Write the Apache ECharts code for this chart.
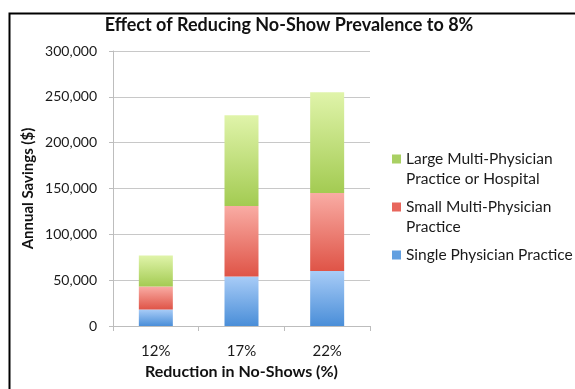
<!DOCTYPE html>
<html>
<head>
<meta charset="utf-8">
<script src="https://cdn.jsdelivr.net/npm/echarts@6/dist/echarts.min.js"></script>
<style>
  html, body { margin: 0; padding: 0; background: #fff; }
  #chart { width: 575px; height: 389px; }
</style>
</head>
<body>
<div id="chart"></div>
<script>
// Annual savings by practice type for each no-show reduction level
const categories = ['12%', '17%', '22%'];
const singlePhysician = [18000, 54000, 60000];
const smallMulti = [25000, 77000, 85000];
const largeMulti = [34000, 99000, 110000];
const yTicks = [0, 50000, 100000, 150000, 200000, 250000, 300000];

const seriesNames = {
  large: 'Large Multi-Physician\nPractice or Hospital',
  small: 'Small Multi-Physician\nPractice',
  single: 'Single Physician Practice'
};

const FONT = 'Lato, "Open Sans", sans-serif';
const LEGEND_TEXT = { fontFamily: FONT, fontSize: 15.5, color: '#1a1a1a', lineHeight: 20 };

// square marker sitting on the first line of a two-line legend entry
const topSquare = 'path://M0,5.5L9,5.5L9,14.5L0,14.5Z M0,0L0.01,0 M0,40L0.01,40';

function grad(top, bottom) {
  return new echarts.graphic.LinearGradient(0, 0, 0, 1, [
    { offset: 0, color: top },
    { offset: 1, color: bottom }
  ]);
}

function legendBlock(name, color, top, icon, h) {
  return {
    orient: 'vertical',
    left: 387,
    top: top,
    itemWidth: 9,
    itemHeight: h,
    icon: icon,
    data: [{ name: name, itemStyle: { color: color, borderWidth: 0 } }],
    textStyle: LEGEND_TEXT
  };
}

const chart = echarts.init(document.getElementById('chart'), null, { renderer: 'canvas' });

chart.setOption({
  animation: false,
  backgroundColor: '#fff',
  title: {
    text: 'Effect of Reducing No-Show Prevalence to 8%',
    left: 284,
    textAlign: 'center',
    top: 11,
    textStyle: { fontFamily: FONT, fontWeight: 'bold', fontSize: 18, color: '#111' }
  },
  legend: [
    legendBlock(seriesNames.large, '#a9d063', 144, topSquare, 40),
    legendBlock(seriesNames.small, '#e8665c', 192, topSquare, 40),
    legendBlock(seriesNames.single, '#629fe0', 240, 'rect', 9)
  ],
  grid: { left: 113, right: 205, top: 51, bottom: 63 },
  xAxis: {
    type: 'category',
    data: categories,
    name: 'Reduction in No-Shows (%)',
    nameLocation: 'middle',
    nameGap: 35,
    nameTextStyle: { fontFamily: FONT, fontWeight: 'bold', fontSize: 16, color: '#111' },
    axisLine: { lineStyle: { color: '#bdbdbd' } },
    axisTick: { show: true, length: 5, lineStyle: { color: '#bdbdbd' } },
    axisLabel: { fontFamily: FONT, fontSize: 15, color: '#1a1a1a', margin: 18 }
  },
  yAxis: {
    type: 'value',
    min: yTicks[0],
    max: yTicks[yTicks.length - 1],
    interval: yTicks[1] - yTicks[0],
    name: 'Annual Savings ($)',
    nameLocation: 'middle',
    nameGap: 77,
    nameRotate: 90,
    nameTextStyle: { fontFamily: FONT, fontWeight: 'bold', fontSize: 15, color: '#111' },
    axisLine: { show: true, lineStyle: { color: '#bdbdbd' } },
    axisTick: { show: true, length: 4, lineStyle: { color: '#bdbdbd' } },
    splitLine: { lineStyle: { color: '#c8c8c8' } },
    axisLabel: {
      fontFamily: FONT, fontSize: 14, color: '#1a1a1a', margin: 16,
      formatter: v => v.toLocaleString('en-US')
    }
  },
  series: [
    {
      name: seriesNames.single,
      type: 'bar', stack: 'total', barWidth: 34,
      data: singlePhysician,
      itemStyle: { color: grad('#a8ccf7', '#4a8ed8') }
    },
    {
      name: seriesNames.small,
      type: 'bar', stack: 'total', barWidth: 34,
      data: smallMulti,
      itemStyle: { color: grad('#f9aca4', '#df5447') }
    },
    {
      name: seriesNames.large,
      type: 'bar', stack: 'total', barWidth: 34,
      data: largeMulti,
      itemStyle: { color: grad('#e0f4aa', '#a3cb52') }
    }
  ],
  graphic: [
    {
      type: 'rect',
      left: 7, top: 11,
      shape: { width: 620, height: 420 },
      style: { fill: 'none', stroke: '#000', lineWidth: 2 },
      silent: true
    }
  ]
});
</script>
</body>
</html>
